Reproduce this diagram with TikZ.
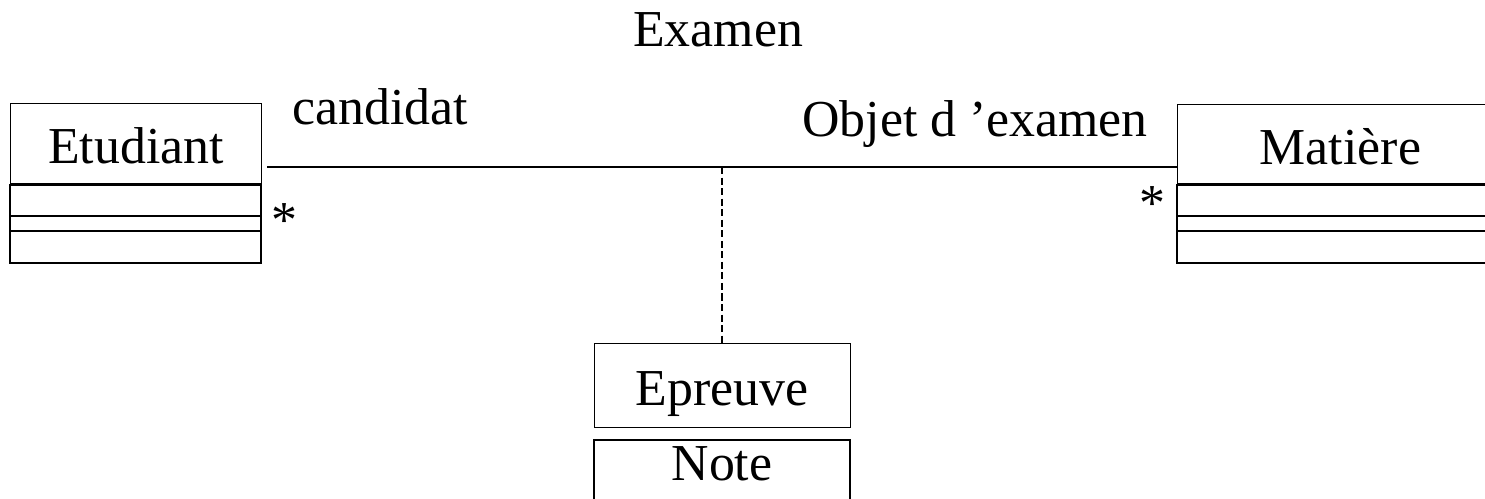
\documentclass[tikz,border=0pt]{standalone}
\usepackage{fontspec}
\setmainfont{Liberation Serif}
\usetikzlibrary{calc}

\tikzset{
  txt/.style={font=\fontsize{29.5}{35}\selectfont},
  classe/.style={txt, draw, line width=0.5pt, inner sep=0pt, text height=23pt, text depth=0pt},
  attr/.style={line width=1.1pt},
  assoc/.style={line width=1pt},
  lbl/.style={txt, anchor=base, inner sep=0pt},
}

\begin{document}
\begin{tikzpicture}[x=0.02cm, y=-0.02cm]
  \clip (0,0) rectangle (1485,499);

  % classes
  \node[classe, anchor=north west, minimum width=5.02cm, minimum height=1.6cm] (etudiant) at (10,103) {Etudiant};
  \node[classe, anchor=north west, minimum width=6.52cm, minimum height=1.58cm] (matiere) at (1177,104) {Matière};
  \foreach \x/\w in {10/251, 1177/326} {
    \draw[attr] (\x,185) rectangle ++(\w,78);
    \draw[attr] (\x,216) -- ++(\w,0);
    \draw[attr] (\x,231) -- ++(\w,0);
  }

  % association class
  \node[classe, anchor=north, minimum width=5.12cm, minimum height=1.68cm] (epreuve) at (722,343) {Epreuve};
  \node[classe, line width=1.1pt, anchor=north, minimum width=5.12cm, text depth=28pt] (note) at (722,439) {Note};

  % association
  \coordinate (gauche) at (267,167);
  \coordinate (droite) at (gauche -| matiere.west);
  \coordinate (milieu) at (gauche -| epreuve.north);
  \draw[assoc] (gauche) -- (droite);
  \draw[line width=1.1pt, dash pattern=on 4pt off 2pt] (milieu) -- (epreuve.north);

  \node[lbl] (nom) at (718,47) {Examen};
  \node[lbl] (role1) at (380,125) {candidat};
  \node[lbl] (role2) at (975,137) {Objet d ’examen};
  \node[lbl] (mult1) at (284,237.5) {*};
  \node[lbl] (mult2) at (1152,220.5) {*};
\end{tikzpicture}
\end{document}
